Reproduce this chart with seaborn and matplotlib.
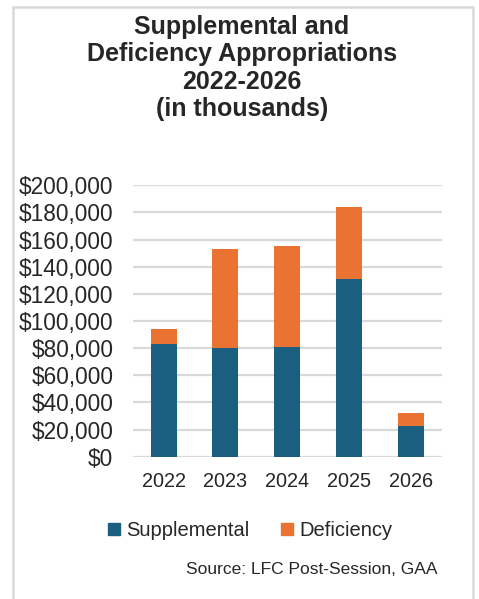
import seaborn as sns
import matplotlib.pyplot as plt
import pandas as pd
from matplotlib.patches import Rectangle
from matplotlib.lines import Line2D

# values (in thousands)
years = ['2022', '2023', '2024', '2025', '2026']
supplemental = [83000, 80100, 81100, 131200, 22600]
deficiency = [10900, 73200, 73900, 52600, 9300]
yticks = list(range(0, 200001, 20000))

blue = '#1a5e80'
orange = '#ea7333'

df = pd.DataFrame({'year': years, 'Supplemental': supplemental, 'Deficiency': deficiency})
df['total'] = df['Supplemental'] + df['Deficiency']

sns.set_style("whitegrid")
plt.rcParams['font.family'] = ['Liberation Sans', 'DejaVu Sans']

fig = plt.figure(figsize=(4.79, 5.99), dpi=100)
ax = fig.add_axes([0.277, 0.2376, 0.645, 0.4531])

# stacked bars: total in orange, supplemental drawn on top
sns.barplot(data=df, x='year', y='total', color=orange, width=0.42, saturation=1, linewidth=0, ax=ax)
sns.barplot(data=df, x='year', y='Supplemental', color=blue, width=0.42, saturation=1, linewidth=0, ax=ax)

ax.set_ylim(0, 200000)
ax.set_xlim(-0.5, 4.5)
ax.set_yticks(yticks)
ax.set_yticklabels([f'${v:,}' for v in yticks], fontsize=16.3)
ax.tick_params(axis='x', labelsize=14.3, length=0, pad=11)
ax.tick_params(axis='y', length=0, pad=14)
ax.set_xlabel('')
ax.set_ylabel('')
ax.grid(axis='y', color='#d9d9d9', linewidth=1.6)
ax.grid(axis='x', visible=False)
ax.set_axisbelow(True)
for s in ax.spines.values():
    s.set_visible(False)

# outer border of the chart box
fig.patches.append(Rectangle((13 / 479, -0.1), 460 / 479, 1 - 7 / 599 + 0.1, transform=fig.transFigure,
                             fill=False, edgecolor='#d9d9d9', linewidth=1.8))

fig.text(0.505, 1 - 68 / 599, 'Supplemental and\nDeficiency Appropriations\n2022-2026\n(in thousands)',
         ha='center', va='center', fontsize=18, fontweight='bold', linespacing=1.17)

handles = [Line2D([], [], marker='s', linestyle='', markersize=8, color=blue),
           Line2D([], [], marker='s', linestyle='', markersize=8, color=orange)]
fig.legend(handles, ['Supplemental', 'Deficiency'], loc='center', bbox_to_anchor=(0.522, 1 - 531 / 599),
           ncol=2, frameon=False, fontsize=14.5, handlelength=0.6, handletextpad=0.3, columnspacing=1.6)

fig.text(438 / 479, 1 - 569 / 599, 'Source: LFC Post-Session, GAA', ha='right', va='center', fontsize=12.5)

plt.savefig('out.png', dpi=100)
